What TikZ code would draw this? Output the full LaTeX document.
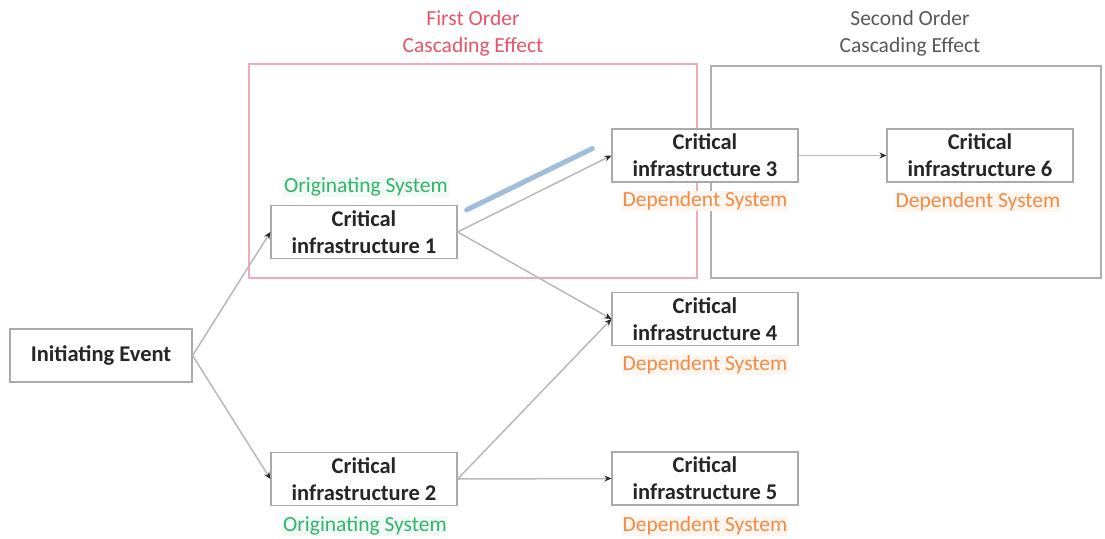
\documentclass[tikz,border=0pt]{standalone}
\usepackage{fontspec}
\setmainfont{Carlito}
\usetikzlibrary{arrows.meta,calc}
\definecolor{boxline}{RGB}{170,170,170}
\definecolor{linkgrey}{RGB}{185,185,185}
\definecolor{tipgrey}{RGB}{40,40,40}
\definecolor{firstred}{RGB}{232,84,104}
\definecolor{firstframe}{RGB}{240,170,185}
\definecolor{secondframe}{RGB}{175,175,175}
\definecolor{origgreen}{RGB}{50,180,110}
\definecolor{deporange}{RGB}{240,140,70}
\definecolor{bandblue}{RGB}{145,178,212}
\tikzset{
  cibox/.style={draw=boxline, line width=1.2pt, fill=white, minimum width=186pt,
    minimum height=53pt, inner sep=0pt, align=center, text=black!85,
    font=\fontsize{22.5}{27}\selectfont\bfseries},
  origlabel/.style={text=origgreen, fill=origgreen!7, inner sep=1pt,
    font=\fontsize{21.5}{24}\selectfont},
  deplabel/.style={text=deporange, fill=deporange!9, inner sep=1pt,
    font=\fontsize{21.5}{24}\selectfont},
  titletext/.style={align=center, font=\fontsize{21.5}{27}\selectfont},
  link/.style={draw=linkgrey, line width=1.5pt,
    -{Stealth[length=7pt,width=6pt,color=tipgrey]}},
}
\begin{document}
\begin{tikzpicture}[x=1pt,y=-1pt]
\useasboundingbox (0,0) rectangle (1105,538);
\fill[white] (0,0) rectangle (1105,538);

% cascading-effect frames
\draw[firstframe, line width=1.5pt] (249,64) rectangle (697,278);
\draw[secondframe, line width=1.3pt] (711,66) rectangle (1101,278);
\node[titletext, text=firstred] (t1) at (473,33) {First Order\\Cascading Effect};
\node[titletext, text=black!65] (t2) at (910,33) {Second Order\\Cascading Effect};

% systems
\node[cibox, minimum width=182pt] (ie) at (101,355.5) {Initiating Event};
\node[cibox] (ci1) at (364,232) {Critical\\infrastructure 1};
\node[cibox] (ci2) at (364,479) {Critical\\infrastructure 2};
\node[cibox] (ci3) at (705,155.5) {Critical\\infrastructure 3};
\node[cibox] (ci4) at (705,319) {Critical\\infrastructure 4};
\node[cibox] (ci5) at (705,478.5) {Critical\\infrastructure 5};
\node[cibox] (ci6) at (980,155.5) {Critical\\infrastructure 6};

% role labels
\node[origlabel] (o1) at (366,187) {Originating System};
\node[origlabel] (o2) at (365,526) {Originating System};
\node[deplabel] (d3) at (705,201) {Dependent System};
\node[deplabel] (d4) at (705,365) {Dependent System};
\node[deplabel] (d5) at (705,526) {Dependent System};
\node[deplabel] (d6) at (978,202) {Dependent System};

% highlighted dependency band
\draw[bandblue, line width=5pt, line cap=round, opacity=0.85]
  ($(ci1.north east)+(9,5)$) -- ($(ci3.west)+(-19,-7)$);

% connectors
\draw[link] (ie.east) -- (ci1.west);
\draw[link] (ie.east) -- (ci2.west);
\draw[link] (ci1.east) -- (ci3.west);
\draw[link] (ci1.east) -- (ci4.west);
\draw[link] (ci2.east) -- (ci4.west);
\draw[link] (ci2.east) -- (ci5.west);
\draw[link] (ci3.east) -- (ci6.west);
\end{tikzpicture}
\end{document}
